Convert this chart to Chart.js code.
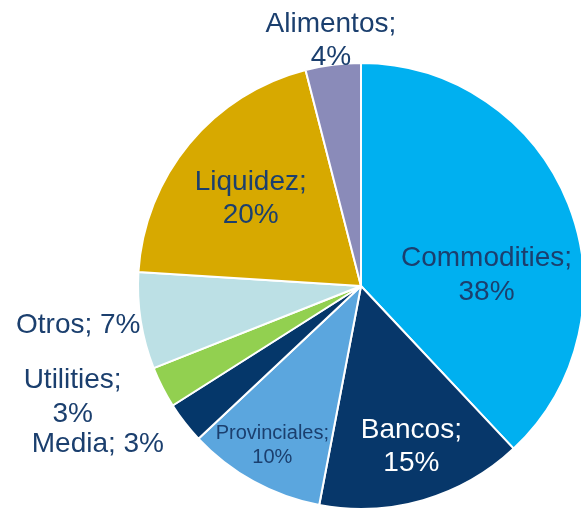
<!DOCTYPE html>
<html>
<head>
<meta charset="utf-8">
<script src="https://cdn.jsdelivr.net/npm/chart.js@4/dist/chart.umd.min.js"></script>
<style>
  html, body { margin: 0; padding: 0; background: #fff; overflow: hidden; }
  #wrap { width: 581px; height: 508px; overflow: hidden; }
</style>
</head>
<body>
<div id="wrap"><canvas id="pie" width="585" height="510"></canvas></div>
<script>
// Composición de cartera por sector (%), en sentido horario desde las 12
const sectors = ['Commodities', 'Bancos', 'Provinciales', 'Media', 'Utilities', 'Otros', 'Liquidez', 'Alimentos'];
const shares = [38, 15, 10, 3, 3, 7, 20, 4];
const colors = ['#00B0F0', '#07376A', '#5BA6DE', '#05376A', '#92D050', '#BCE0E5', '#D7A900', '#8A8BB9'];

// posición de cada etiqueta: [ángulo desde arriba (grados), distancia / radio], texto, tamaño, color
const labelSpots = [
  { at: [85, 0.565], lines: ['Commodities;', '38%'], size: 28, color: '#1B3F6E' },
  { at: [162.6, 0.755], lines: ['Bancos;', '15%'], size: 28, color: '#ffffff' },
  { at: [209, 0.82], lines: ['Provinciales;', '10%'], size: 20, color: '#1B3F6E' },
  { at: [238.9, 1.378], lines: ['Media; 3%'], size: 28, color: '#1B3F6E' },
  { at: [248.9, 1.386], lines: ['Utilities;', '3%'], size: 28, color: '#1B3F6E' },
  { at: [262.1, 1.28], lines: ['Otros; 7%'], size: 28, color: '#1B3F6E' },
  { at: [308.3, 0.63], lines: ['Liquidez;', '20%'], size: 28, color: '#1B3F6E' },
  { at: [353, 1.108], lines: ['Alimentos;', '4%'], size: 28, color: '#1B3F6E' }
];

const sliceLabels = {
  id: 'sliceLabels',
  afterDatasetsDraw(chart) {
    const { ctx } = chart;
    const arc = chart.getDatasetMeta(0).data[0];
    const cx = arc.x, cy = arc.y, r = arc.outerRadius;
    ctx.save();
    ctx.textAlign = 'center';
    ctx.textBaseline = 'middle';
    labelSpots.forEach((s) => {
      const a = s.at[0] * Math.PI / 180;
      const x = cx + Math.sin(a) * r * s.at[1];
      const y = cy - Math.cos(a) * r * s.at[1];
      const lh = s.size * 1.2;
      ctx.font = `${s.size}px "Liberation Sans", Arial, sans-serif`;
      ctx.fillStyle = s.color;
      s.lines.forEach((line, i) => {
        ctx.fillText(line, x, y + (i - (s.lines.length - 1) / 2) * lh);
      });
    });
    ctx.restore();
  }
};

new Chart(document.getElementById('pie'), {
  type: 'pie',
  data: {
    labels: sectors,
    datasets: [{
      data: shares,
      backgroundColor: colors,
      borderColor: '#ffffff',
      borderWidth: 2
    }]
  },
  options: {
    responsive: false,
    animation: false,
    layout: { padding: { left: 137, right: 0, top: 62, bottom: 0 } },
    plugins: {
      legend: { display: false },
      tooltip: { enabled: false }
    }
  },
  plugins: [sliceLabels]
});
</script>
</body>
</html>
